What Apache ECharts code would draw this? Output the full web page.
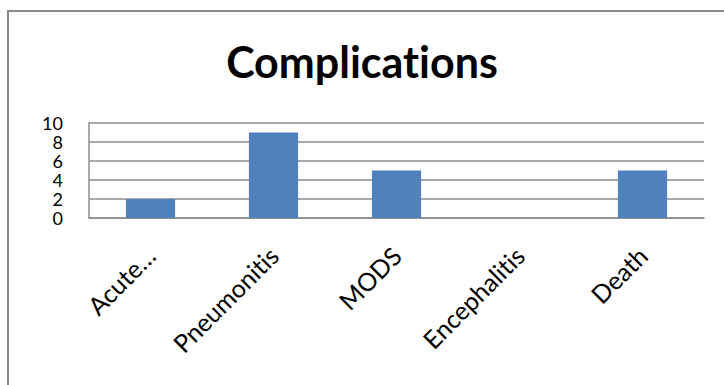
<!DOCTYPE html>
<html>
<head>
<meta charset="utf-8">
<style>
  html, body { margin: 0; padding: 0; background: #fff; }
  #chart { width: 724px; height: 385px; font-variant-ligatures: none; }
  #chart text { font-variant-ligatures: none; }
</style>
<script src="https://cdn.jsdelivr.net/npm/echarts@6/dist/echarts.min.js"></script>
</head>
<body>
<div id="chart"></div>
<script>
// Complication counts by category
const categories = ['Acute…', 'Pneumonitis', 'MODS', 'Encephalitis', 'Death'];
const counts = [2, 9, 5, 0, 5];
const yTicks = [0, 2, 4, 6, 8, 10];

const chart = echarts.init(document.getElementById('chart'), null, { renderer: 'svg' });

chart.setOption({
  animation: false,
  backgroundColor: '#ffffff',
  title: {
    text: 'Complications',
    left: 'center',
    top: 35,
    textStyle: {
      fontFamily: 'Lato',
      fontWeight: 'bold',
      fontSize: 43,
      color: '#000000'
    }
  },
  graphic: [{
    type: 'polyline',
    shape: { points: [[8, 385], [8, 11], [724, 11]] },
    style: { stroke: '#8a8a8a', lineWidth: 2, fill: null },
    silent: true
  }],
  grid: {
    left: 89,
    right: 20,
    top: 123,
    bottom: 167,
    containLabel: false
  },
  xAxis: {
    type: 'category',
    data: categories,
    axisLine: { show: true, lineStyle: { color: '#8c8c8c', width: 1.5 } },
    axisTick: { show: false },
    axisLabel: {
      rotate: 45,
      interval: 0,
      margin: 33,
      fontFamily: 'Lato',
      fontSize: 25,
      color: '#000000'
    }
  },
  yAxis: {
    type: 'value',
    min: yTicks[0],
    max: yTicks[yTicks.length - 1],
    interval: yTicks[1] - yTicks[0],
    axisLine: { show: true, lineStyle: { color: '#8c8c8c', width: 1.5 } },
    axisTick: { show: false },
    splitLine: { show: true, lineStyle: { color: '#8c8c8c', width: 1.5 } },
    axisLabel: {
      margin: 26,
      showMinLabel: true,
      showMaxLabel: true,
      hideOverlap: false,
      fontFamily: 'Lato',
      fontSize: 18,
      color: '#000000'
    }
  },
  series: [{
    type: 'bar',
    data: counts,
    barCategoryGap: '60%',
    itemStyle: { color: '#4f81bd' }
  }]
});
</script>
</body>
</html>
